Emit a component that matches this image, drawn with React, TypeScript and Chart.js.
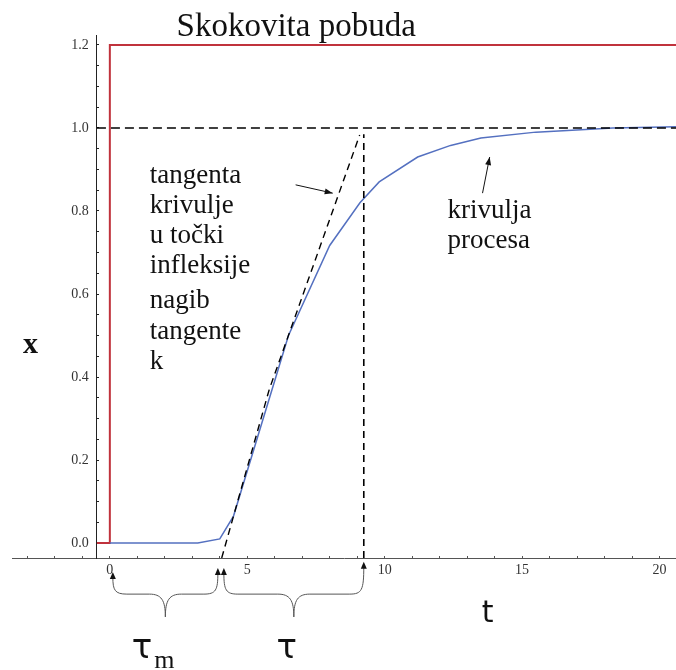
import React, { useEffect, useRef } from 'react';
import { Chart, registerables } from 'chart.js';

Chart.register(...registerables);

// axis ranges (t horizontal, x vertical)
const T_MIN = -3.56;
const T_MAX = 20.6;
const X_MIN = -0.036;
const X_MAX = 1.224;
const T_AXIS = -0.47; // t where the vertical axis stands

// tick labels
const tTickLabels = [0, 5, 10, 15, 20];
const xTickLabels = [0, 0.2, 0.4, 0.6, 0.8, 1.0, 1.2];

// step input
const stepT = [T_AXIS, 0, 0, T_MAX];
const stepX = [0, 0, 1.2, 1.2];

// process response
const procT = [0, 3.2, 4.0, 4.5, 6.5, 8.0, 9.1, 9.8, 11.2, 12.4, 13.5, 15.5, 18.3, 20.6];
const procX = [0, 0, 0.01, 0.065, 0.5, 0.717, 0.82, 0.87, 0.93, 0.958, 0.976, 0.99, 1.0, 1.003];

// tangent at the inflection point (hand-drawn guide)
const tanT = [4.07, 5.8, 9.09];
const tanX = [X_MIN, 0.37, 0.983];

// steady state level
const ssT = [T_AXIS, T_MAX];
const ssX = [1, 1];

// dead time and time constant
const TAU_M = 4.04;
const TAU_END = 9.24;
const tauLineX = [X_MIN, 0.985];

const TITLE = 'Skokovita pobuda';
const noteTangent = ['tangenta', 'krivulje', 'u točki', 'infleksije'];
const noteSlope = ['nagib', 'tangente', 'k'];
const noteProcess = ['krivulja', 'procesa'];

const SERIF = '"Liberation Serif", "Times New Roman", serif';
const SANS = '"DejaVu Sans", "Noto Sans", sans-serif';

const pts = (ts: number[], xs: number[]) => ts.map((t, i) => ({ x: t, y: xs[i] }));

const near = (v: number, list: number[]) => list.some((l) => Math.abs(v - l) < 1e-6);

function arrowHead(ctx: CanvasRenderingContext2D, x0: number, y0: number, x1: number, y1: number, len: number, half: number) {
  const a = Math.atan2(y1 - y0, x1 - x0);
  ctx.beginPath();
  ctx.moveTo(x1, y1);
  ctx.lineTo(x1 - len * Math.cos(a) + half * Math.sin(a), y1 - len * Math.sin(a) - half * Math.cos(a));
  ctx.lineTo(x1 - len * Math.cos(a) - half * Math.sin(a), y1 - len * Math.sin(a) + half * Math.cos(a));
  ctx.closePath();
  ctx.fill();
}

function brace(ctx: CanvasRenderingContext2D, x0: number, x1: number, yTip0: number, yTip1: number, yBar: number, yDip: number) {
  const xm = (x0 + x1) / 2;
  ctx.beginPath();
  ctx.moveTo(x0, yTip0 + 5);
  ctx.bezierCurveTo(x0, yBar - 4, x0 + 2, yBar, x0 + 14, yBar);
  ctx.lineTo(xm - 16, yBar);
  ctx.bezierCurveTo(xm - 4, yBar, xm, yBar + 6, xm, yDip);
  ctx.moveTo(xm, yDip);
  ctx.bezierCurveTo(xm, yBar + 6, xm + 4, yBar, xm + 16, yBar);
  ctx.lineTo(x1 - 14, yBar);
  ctx.bezierCurveTo(x1 - 2, yBar, x1, yBar - 4, x1, yTip1 + 5);
  ctx.stroke();
  arrowHead(ctx, x0, yTip0 + 10, x0, yTip0, 7, 3);
  arrowHead(ctx, x1, yTip1 + 10, x1, yTip1, 7, 3);
}

const notesPlugin = {
  id: 'notes',
  afterDraw(chart: any) {
    const ctx: CanvasRenderingContext2D = chart.ctx;
    const px = (t: number) => chart.scales.x.getPixelForValue(t);
    const py = (v: number) => chart.scales.y.getPixelForValue(v);
    ctx.save();
    ctx.fillStyle = '#111';
    ctx.textBaseline = 'alphabetic';

    // title
    ctx.font = `33px ${SERIF}`;
    ctx.textAlign = 'center';
    ctx.fillText(TITLE, px(6.78), py(1.222));

    // side notes
    ctx.font = `27px ${SERIF}`;
    ctx.textAlign = 'left';
    noteTangent.forEach((s, i) => ctx.fillText(s, px(1.455), py(0.867) + i * 30));
    noteSlope.forEach((s, i) => ctx.fillText(s, px(1.455), py(0.566) + i * 30.5));
    noteProcess.forEach((s, i) => ctx.fillText(s, px(12.29), py(0.783) + i * 30));

    // axis names
    ctx.font = `bold 30px ${SERIF}`;
    ctx.textAlign = 'center';
    ctx.fillText('x', px(-2.89), py(0.458));
    ctx.font = `30px ${SANS}`;
    ctx.textAlign = 'left';
    ctx.fillText('t', px(13.53), py(-0.19));

    // tau labels
    ctx.font = `34px ${SANS}`;
    ctx.fillText('τ', px(0.8), py(-0.277));
    ctx.font = `26px ${SERIF}`;
    ctx.fillText('m', px(1.62), py(-0.301));
    ctx.font = `34px ${SANS}`;
    ctx.fillText('τ', px(6.06), py(-0.277));

    // pointer arrows
    ctx.strokeStyle = '#111';
    ctx.lineWidth = 1;
    const arrows = [
      [6.76, 0.863, 8.11, 0.843],
      [13.56, 0.843, 13.82, 0.93],
    ];
    arrows.forEach(([t0, v0, t1, v1]) => {
      const x0 = px(t0), y0 = py(v0), x1 = px(t1), y1 = py(v1);
      ctx.beginPath();
      ctx.moveTo(x0, y0);
      ctx.lineTo(x1, y1);
      ctx.stroke();
      arrowHead(ctx, x0, y0, x1, y1, 8, 3);
    });

    // braces under the time axis
    ctx.strokeStyle = '#555';
    ctx.fillStyle = '#111';
    ctx.lineWidth = 1;
    brace(ctx, px(0) + 3, px(TAU_M) - 3, py(-0.07), py(-0.06), py(-0.123), py(-0.178));
    brace(ctx, px(TAU_M) + 3, px(TAU_END), py(-0.06), py(-0.045), py(-0.123), py(-0.178));
    ctx.restore();
  },
};

export default function App() {
  const ref = useRef<HTMLCanvasElement | null>(null);

  useEffect(() => {
    if (!ref.current) return;
    const tickFont = { family: SERIF, size: 14 };
    const chart = new Chart(ref.current, {
      type: 'line',
      data: {
        datasets: [
          { data: pts(ssT, ssX), borderColor: '#000', borderWidth: 1.6, borderDash: [9, 5] },
          { data: pts([TAU_END, TAU_END], tauLineX), borderColor: '#000', borderWidth: 1.6, borderDash: [7, 5] },
          { data: pts(tanT, tanX), borderColor: '#000', borderWidth: 1.4, borderDash: [7, 5] },
          { data: pts(procT, procX), borderColor: '#5470c0', borderWidth: 1.5 },
          { data: pts(stepT, stepX), borderColor: '#c0323c', borderWidth: 2 },
        ],
      },
      options: {
        animation: false,
        responsive: true,
        maintainAspectRatio: false,
        layout: { padding: { left: 12, right: 0, top: 35, bottom: 112 } },
        elements: { line: { tension: 0, fill: false }, point: { radius: 0, hoverRadius: 0 } },
        plugins: { legend: { display: false }, tooltip: { enabled: false }, title: { display: false } },
        events: [],
        scales: {
          x: {
            type: 'linear',
            min: T_MIN,
            max: T_MAX,
            position: { y: X_MIN },
            grid: { drawOnChartArea: false, drawTicks: true, tickLength: -3, color: '#555' },
            border: { display: true, color: '#555', width: 1 },
            ticks: {
              stepSize: 1,
              autoSkip: false,
              includeBounds: false,
              maxRotation: 0,
              padding: 7,
              color: '#333',
              font: tickFont,
              callback: (v: any) => (near(Number(v), tTickLabels) ? String(Math.round(Number(v))) : ''),
            },
          },
          y: {
            type: 'linear',
            min: X_MIN,
            max: X_MAX,
            position: { x: T_AXIS },
            grid: { drawOnChartArea: false, drawTicks: true, tickLength: -3, color: '#222' },
            border: { display: true, color: '#222', width: 1 },
            ticks: {
              stepSize: 0.05,
              autoSkip: false,
              includeBounds: false,
              padding: 0,
              color: '#333',
              font: tickFont,
              callback: (v: any) => (near(Number(v), xTickLabels) ? Number(v).toFixed(1) + '\u2007\u200A' : ''),
            },
          },
        },
      } as any,
      plugins: [notesPlugin],
    });
    return () => chart.destroy();
  }, []);

  return (
    <div style={{ position: 'absolute', left: 0, top: 0, width: 676, height: 670, background: '#fff' }}>
      <canvas ref={ref} />
    </div>
  );
}
